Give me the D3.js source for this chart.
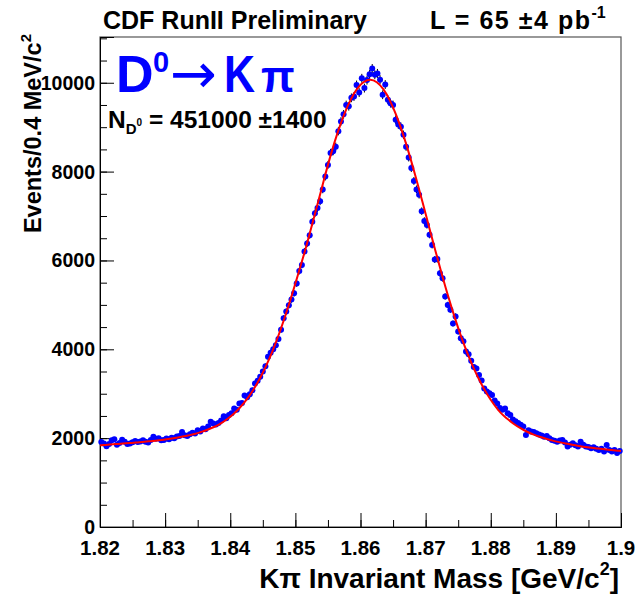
<!DOCTYPE html>
<html><head><meta charset="utf-8">
<script src="https://cdn.jsdelivr.net/npm/d3@7"></script>
<style>body{margin:0;background:#fff}text{font-family:"Liberation Sans",Arial,Helvetica,sans-serif;font-weight:bold}</style>
</head><body><svg id="c" width="643" height="596"></svg>
<script>
// Histogram: 200 bins of 0.4 MeV from 1.82 to 1.90 GeV/c^2
const massLo = 1.82, massHi = 1.90, binWidth = 0.0004;
const counts = [
1915,1880,1815,1870,1950,1975,1850,1890,1965,1920,
1870,1880,1905,1935,1915,1925,1955,1920,1900,1960,
2030,1985,1995,1950,1960,1990,1975,2010,1995,2035,
2050,2140,2065,2050,2090,2120,2105,2180,2150,2220,
2200,2260,2370,2330,2310,2340,2400,2495,2450,2520,
2560,2670,2640,2780,2790,2960,2920,2990,3080,3230,
3290,3380,3500,3620,3830,3920,4000,4090,4230,4440,
4700,4850,4990,5120,5260,5480,5760,5900,6200,6380,
6570,6870,7060,7180,7330,7600,7890,8150,8420,8460,
8560,8910,9130,9290,9500,9470,9660,9690,9950,9780,
10100,9880,10060,10190,10320,10180,10210,10070,9730,9960,
9620,9540,9500,9170,9060,9010,8830,8560,8320,8080,
7790,7600,7480,7110,6890,6800,6580,6350,6020,6030,
5710,5600,5190,5000,4890,4580,4740,4400,4250,4180,
3950,3890,3740,3600,3570,3420,3300,3120,3050,3010,
2970,2850,2780,2680,2640,2670,2560,2520,2420,2380,
2340,2300,2260,2070,2180,2150,2140,2110,2080,2060,
2030,2050,2000,1960,1940,1920,1945,1960,1900,1810,
1850,1885,1840,1810,1920,1850,1810,1800,1770,1795,
1760,1735,1760,1700,1845,1735,1700,1735,1665,1710];
// Fit curve (red)
const fitMass = [1.8200,
1.8205,1.8215,1.8225,1.8235,1.8245,1.8255,1.8265,1.8275,1.8285,1.8295,
1.8305,1.8315,1.8325,1.8335,1.8345,1.8355,1.8365,1.8375,1.8385,1.8395,
1.8405,1.8415,1.8425,1.8435,1.8445,1.8455,1.8465,1.8475,1.8485,1.8495,
1.8505,1.8515,1.8525,1.8535,1.8545,1.8555,1.8565,1.8575,1.8585,1.8595,
1.8605,1.8615,1.8625,1.8635,1.8645,1.8655,1.8665,1.8675,1.8685,1.8695,
1.8705,1.8715,1.8725,1.8735,1.8745,1.8755,1.8765,1.8775,1.8785,1.8795,
1.8805,1.8815,1.8825,1.8835,1.8845,1.8855,1.8865,1.8875,1.8885,1.8895,
1.8905,1.8915,1.8925,1.8935,1.8945,1.8955,1.8965,1.8975,1.8985,1.8995,
1.9000];
const fitValue = [1840,
1845,1855,1866,1877,1889,1901,1914,1928,1943,1960,
1980,2003,2030,2060,2092,2138,2189,2251,2328,2425,
2544,2690,2867,3080,3332,3627,3966,4350,4778,5240,
5730,6230,6770,7320,7880,8410,8883,9289,9621,9867,
10017,10066,10011,9855,9603,9265,8854,8383,7867,7325,
6770,6219,5685,5176,4702,4268,3879,3535,3234,2976,
2757,2574,2440,2325,2230,2150,2085,2030,1985,1945,
1910,1878,1850,1825,1803,1783,1765,1748,1732,1717,
1710];
const xTicks = [1.82,1.83,1.84,1.85,1.86,1.87,1.88,1.89,1.9];
const xTickLabels = ["1.82","1.83","1.84","1.85","1.86","1.87","1.88","1.89","1.9"];
const yTicks = [0,2000,4000,6000,8000,10000];
const yMax = 11030;

const svg = d3.select("#c");
const L = 100, R = 621, T = 37, B = 527;
const x = d3.scaleLinear().domain([massLo, massHi]).range([L, R]);
const y = d3.scaleLinear().domain([0, yMax]).range([B, T]);

svg.append("rect").attr("width",643).attr("height",596).attr("fill","#fff");
// frame
svg.append("rect").attr("x",L).attr("y",T).attr("width",R-L).attr("height",B-T)
  .attr("fill","none").attr("stroke","#555").attr("stroke-width",1.2);

// x axis
const xMinor = d3.range(0,17).map(i => massLo + i*0.005);
const gx = svg.append("g").attr("transform",`translate(0,${B})`);
gx.call(d3.axisBottom(x).tickValues(xMinor).tickSize(-7).tickFormat(""));
gx.append("g").call(d3.axisBottom(x).tickValues(xTicks).tickSize(-14).tickFormat(""));
gx.selectAll(".domain").attr("stroke","#000");
gx.selectAll("line").attr("stroke","#000");
svg.append("g").selectAll("text").data(xTicks).join("text")
  .attr("x",d=>x(d)).attr("y",555).attr("text-anchor","middle")
  .attr("font-size",20.5).text((d,i)=>xTickLabels[i]);

// y axis
const yMinor = d3.range(0, yMax, 500);
const gy = svg.append("g").attr("transform",`translate(${L},0)`);
gy.call(d3.axisLeft(y).tickValues(yMinor).tickSize(-7).tickFormat(""));
gy.append("g").call(d3.axisLeft(y).tickValues(yTicks).tickSize(-14).tickFormat(""));
gy.selectAll(".domain").attr("stroke","#000");
gy.selectAll("line").attr("stroke","#000");
svg.append("g").selectAll("text").data(yTicks).join("text")
  .attr("x",95).attr("y",d=>y(d)).attr("dy","0.36em").attr("text-anchor","end")
  .attr("font-size",19.5).text(d=>d);

// data
const bins = counts.map((c,i)=>({m: massLo + (i+0.5)*binWidth, v: c, e: Math.sqrt(c)}));
const gd = svg.append("g");
gd.selectAll("line").data(bins).join("line")
  .attr("x1",d=>x(d.m)).attr("x2",d=>x(d.m))
  .attr("y1",d=>y(d.v-d.e)).attr("y2",d=>y(d.v+d.e))
  .attr("stroke","#000").attr("stroke-width",1);
gd.selectAll("circle").data(bins).join("circle")
  .attr("cx",d=>x(d.m)).attr("cy",d=>y(d.v)).attr("r",3).attr("fill","#0000ff");

// fit
const fitPts = fitMass.map((m,i)=>[m, fitValue[i]]);
svg.append("path").datum(fitPts)
  .attr("d", d3.line().x(d=>x(d[0])).y(d=>y(d[1])).curve(d3.curveMonotoneX))
  .attr("fill","none").attr("stroke","#ff0000").attr("stroke-width",2);

// texts
svg.append("text").attr("x",103).attr("y",29).attr("font-size",25).text("CDF RunII Preliminary");
const lum = svg.append("text").attr("x",430).attr("y",29).attr("font-size",25);
lum.append("tspan").attr("textLength",160).attr("lengthAdjust","spacing").text("L = 65 \u00b14 pb");
lum.append("tspan").attr("font-size",16).attr("dy",-11).text("-1");

const blue = "#0000ff";
svg.append("text").attr("x",116).attr("y",92).attr("font-size",52).attr("fill",blue).text("D");
svg.append("text").attr("x",153).attr("y",72).attr("font-size",29).attr("fill",blue).text("0");
svg.append("text").attr("x",170).attr("y",93).attr("font-size",56).attr("fill",blue)
  .style("font-family","'DejaVu Sans'").style("font-weight","normal").text("\u2192");
svg.append("text").attr("x",224).attr("y",92).attr("font-size",52).attr("fill",blue)
  .attr("textLength",31).attr("lengthAdjust","spacingAndGlyphs").text("K");
svg.append("text").attr("x",261).attr("y",92).attr("font-size",44).attr("fill",blue).text("\u03c0");

const nd = svg.append("text").attr("x",108).attr("y",128).attr("font-size",24.5);
nd.append("tspan").text("N");
nd.append("tspan").attr("font-size",15).attr("dy",6).text("D");
nd.append("tspan").attr("font-size",10).attr("dy",-8).text("0");
nd.append("tspan").attr("dy",2).text(" = 451000 \u00b11400");

const yt = svg.append("text").attr("transform","translate(41,34) rotate(-90)")
  .attr("text-anchor","end").attr("font-size",23.5);
yt.append("tspan").text("Events/0.4 MeV/c");
yt.append("tspan").attr("font-size",15).attr("dy",-10).text("2");

const xt = svg.append("text").attr("x",619).attr("y",588).attr("text-anchor","end").attr("font-size",28);
xt.append("tspan").text("K\u03c0 Invariant Mass [GeV/c");
xt.append("tspan").attr("font-size",18).attr("dy",-13).text("2");
xt.append("tspan").attr("dy",13).text("]");
</script></body></html>
